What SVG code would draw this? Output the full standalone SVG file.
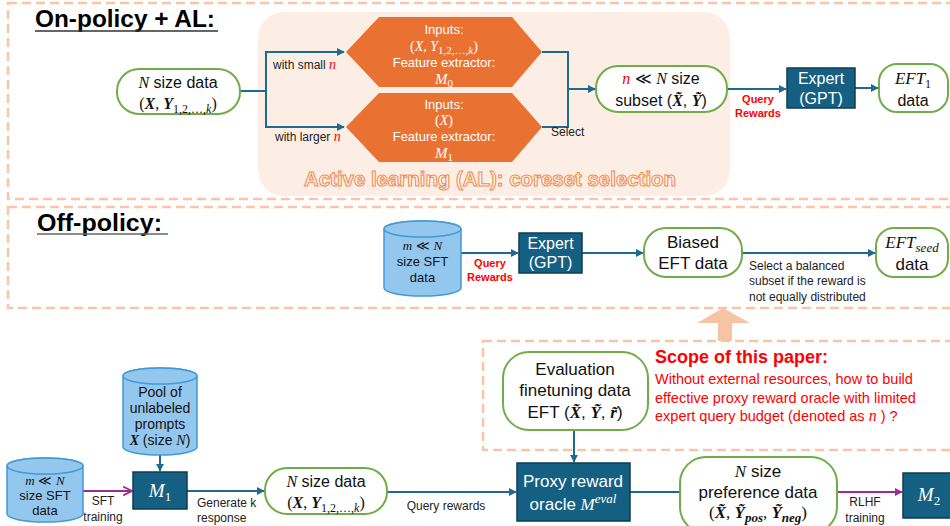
<svg xmlns="http://www.w3.org/2000/svg" width="950" height="526" viewBox="0 0 950 526">
<defs>
<style>
.sans{font-family:"Liberation Sans",Arial,sans-serif}
.m{font-family:"Liberation Serif","DejaVu Serif",serif;font-style:italic;font-weight:normal}
.mb{font-family:"Liberation Serif","DejaVu Serif",serif;font-style:italic;font-weight:bold}
.up{font-family:"Liberation Serif","DejaVu Serif",serif;font-style:normal;font-weight:normal}
.node{fill:#fff;stroke:#70ad47;stroke-width:2}
.dark{fill:#156082;stroke:#0d3d54;stroke-width:1.5}
.hex{fill:#e97132}
.cyl{fill:#94c7ee;stroke:#3f9ad6;stroke-width:1.5}
.conn{fill:none;stroke:#1e6b8f;stroke-width:2}
.purp{fill:none;stroke:#a02b93;stroke-width:2}
.dash{fill:none;stroke:#f8c5a6;stroke-width:2.5;stroke-dasharray:9 5}
.lbl{font-family:"Liberation Sans",Arial,sans-serif;font-size:12px;fill:#222}
.red{fill:#ff0000}
.w{fill:#fff}
.t16{font-family:"Liberation Sans",Arial,sans-serif;font-size:16px;fill:#111}
.t17{font-family:"Liberation Sans",Arial,sans-serif;font-size:17px;fill:#111}
.qr{font-family:"Liberation Sans",Arial,sans-serif;font-size:11px;font-weight:bold;fill:#ff0000}
</style>
<marker id="ah" viewBox="0 0 10 10" refX="9" refY="5" markerWidth="8" markerHeight="8" markerUnits="userSpaceOnUse" orient="auto"><path d="M0,0 L10,5 L0,10 z" fill="#1e6b8f"/></marker>
<marker id="ao" viewBox="0 0 10 10" refX="9" refY="5" markerWidth="11" markerHeight="11" markerUnits="userSpaceOnUse" orient="auto"><path d="M1,1 L9,5 L1,9" fill="none" stroke="#a02b93" stroke-width="1.6"/></marker>
<marker id="ap" viewBox="0 0 10 10" refX="9" refY="5" markerWidth="8" markerHeight="8" markerUnits="userSpaceOnUse" orient="auto"><path d="M0,0 L10,5 L0,10 z" fill="#a02b93"/></marker>
</defs>

<g id="frames">
<rect class="dash" x="8" y="3" width="960" height="196"/>
<rect class="dash" x="8" y="207" width="960" height="101"/>
<rect class="dash" x="483" y="341" width="480" height="109"/>
<polygon points="718,341 718,323 697,323 723,308 750,323 732,323 732,341" fill="#f6c3a3"/>
</g>

<g id="titles">
<text class="sans" x="35" y="27" font-size="24" font-weight="bold" fill="#000" textLength="180" lengthAdjust="spacingAndGlyphs">On-policy + AL:</text>
<line x1="35" y1="31" x2="218" y2="31" stroke="#333" stroke-width="1.5"/>
<text class="sans" x="37" y="231" font-size="24" font-weight="bold" fill="#000" textLength="125" lengthAdjust="spacingAndGlyphs">Off-policy:</text>
<line x1="37" y1="234" x2="168" y2="234" stroke="#666" stroke-width="1.5"/>
</g>

<g id="al-bg">
<rect x="258" y="12" width="472" height="184" rx="26" fill="#fdeee5"/>
<text class="sans" x="304" y="186" font-size="20" font-weight="bold" fill="#fff6f0" stroke="#ee8a50" stroke-width="1" textLength="372" lengthAdjust="spacingAndGlyphs">Active learning (AL): coreset selection</text>
</g>

<g id="connectors">
<path class="conn" d="M240,91 H266"/>
<path class="conn" d="M266,91 V52 H344" marker-end="url(#ah)"/>
<path class="conn" d="M266,91 V127 H344" marker-end="url(#ah)"/>
<path class="conn" d="M542,52 H568 V127 H542"/>
<path class="conn" d="M568,89 H595" marker-end="url(#ah)"/>
<path class="conn" d="M727,89 H786" marker-end="url(#ah)"/>
<path class="conn" d="M855,88 H878" marker-end="url(#ah)"/>
<path class="conn" d="M461,253 H518" marker-end="url(#ah)"/>
<path class="conn" d="M582,253 H643" marker-end="url(#ah)"/>
<path class="conn" d="M742,253 H875" marker-end="url(#ah)"/>
<path class="conn" d="M160,455 V471" marker-end="url(#ah)"/>
<path class="purp" d="M83,491 H132" marker-end="url(#ao)"/>
<path class="conn" d="M187,491 H264" marker-end="url(#ah)"/>
<path class="conn" d="M387,492 H516" marker-end="url(#ah)"/>
<path class="conn" d="M574,430 V462" marker-end="url(#ah)"/>
<path class="conn" d="M630,492 H680"/>
<path class="purp" d="M837,492 H902" marker-end="url(#ap)"/>
</g>

<g id="edge-labels">
<text class="lbl" x="273" y="69">with small <tspan class="m red" font-size="14">n</tspan></text>
<text class="lbl" x="275" y="141">with larger <tspan class="m red" font-size="14">n</tspan></text>
<text class="lbl" x="551" y="136">Select</text>
<text class="qr" x="758" y="103" text-anchor="middle">Query</text>
<text class="qr" x="758" y="117" text-anchor="middle">Rewards</text>
<text class="qr" x="490" y="267" text-anchor="middle">Query</text>
<text class="qr" x="490" y="281" text-anchor="middle">Rewards</text>
<text class="lbl" x="749" y="270">Select a balanced</text>
<text class="lbl" x="749" y="285">subset if the reward is</text>
<text class="lbl" x="749" y="301">not equally distributed</text>
<text class="lbl" x="103" y="505" text-anchor="middle">SFT</text>
<text class="lbl" x="103" y="521" text-anchor="middle">training</text>
<text class="lbl" x="197" y="507">Generate k</text>
<text class="lbl" x="197" y="522">response</text>
<text class="lbl" x="446" y="510" text-anchor="middle">Query rewards</text>
<text class="lbl" x="865" y="506" text-anchor="middle">RLHF</text>
<text class="lbl" x="865" y="522" text-anchor="middle">training</text>
</g>

<g id="n-data-top">
<rect class="node" x="117" y="69" width="123" height="45" rx="22"/>
<text class="t16" x="178" y="88" text-anchor="middle"><tspan class="m">N</tspan> size data</text>
<text class="up" x="178" y="109" font-size="16" text-anchor="middle" fill="#111">(<tspan class="mb">X</tspan>, <tspan class="mb">Y</tspan><tspan font-size="12" dy="4">1,2,…,<tspan class="m">k</tspan></tspan><tspan dy="-4">)</tspan></text>
</g>

<g id="hex-m0">
<polygon class="hex" points="346,52 379,17 512,17 542,52 512,87 379,87"/>
<text class="sans w" x="444" y="34" font-size="13" text-anchor="middle">Inputs:</text>
<text class="up w" x="444" y="51" font-size="14" text-anchor="middle">(<tspan class="m">X</tspan>, <tspan class="m">Y</tspan><tspan font-size="11" dy="3">1,2,…,<tspan class="m">k</tspan></tspan><tspan dy="-3">)</tspan></text>
<text class="sans w" x="444" y="67" font-size="13" text-anchor="middle">Feature extractor:</text>
<text class="m w" x="444" y="84" font-size="15" text-anchor="middle">M<tspan class="up" font-size="11" dy="3">0</tspan></text>
</g>

<g id="hex-m1">
<polygon class="hex" points="346,127 379,93 512,93 542,127 512,162 379,162"/>
<text class="sans w" x="444" y="109" font-size="13" text-anchor="middle">Inputs:</text>
<text class="up w" x="444" y="125" font-size="14" text-anchor="middle">(<tspan class="m">X</tspan>)</text>
<text class="sans w" x="444" y="141" font-size="13" text-anchor="middle">Feature extractor:</text>
<text class="m w" x="444" y="158" font-size="15" text-anchor="middle">M<tspan class="up" font-size="11" dy="3">1</tspan></text>
</g>

<g id="subset">
<rect class="node" x="596" y="66" width="131" height="46" rx="22"/>
<text class="t16" x="661" y="84" text-anchor="middle"><tspan class="m red">n</tspan> ≪ <tspan class="m">N</tspan> size</text>
<text class="t16" x="661" y="106" text-anchor="middle">subset (<tspan class="mb">X̃</tspan>, <tspan class="mb">Ỹ</tspan>)</text>
</g>

<g id="expert-top">
<rect class="dark" x="787" y="68" width="68" height="40"/>
<text class="t16" x="821" y="84" text-anchor="middle" style="fill:#fff">Expert</text>
<text class="t16" x="821" y="104" text-anchor="middle" style="fill:#fff">(GPT)</text>
</g>

<g id="eft1">
<rect class="node" x="879" y="64" width="69" height="48" rx="18"/>
<text class="m" x="913" y="84" font-size="17" text-anchor="middle" fill="#111">EFT<tspan class="up" font-size="12" dy="4">1</tspan></text>
<text class="t16" x="913" y="106" text-anchor="middle">data</text>
</g>

<g id="sft-mid">
<path class="cyl" d="M384,229 V288 A38.5,8 0 0 0 461,288 V229 A38.5,8 0 0 0 384,229 Z"/>
<ellipse class="cyl" cx="422.5" cy="229" rx="38.5" ry="8"/>
<text class="sans" x="422.5" y="250" font-size="13" text-anchor="middle" fill="#111"><tspan class="m">m</tspan> ≪ <tspan class="m">N</tspan></text>
<text class="sans" x="422.5" y="266" font-size="13" text-anchor="middle" fill="#111">size SFT</text>
<text class="sans" x="422.5" y="282" font-size="13" text-anchor="middle" fill="#111">data</text>
</g>

<g id="expert-mid">
<rect class="dark" x="519" y="233" width="63" height="40"/>
<text class="t16" x="550.5" y="249" text-anchor="middle" style="fill:#fff">Expert</text>
<text class="t16" x="550.5" y="268" text-anchor="middle" style="fill:#fff">(GPT)</text>
</g>

<g id="biased">
<rect class="node" x="644" y="228" width="98" height="49" rx="22"/>
<text class="t17" x="693" y="248" text-anchor="middle">Biased</text>
<text class="t17" x="693" y="269" text-anchor="middle">EFT data</text>
</g>

<g id="eft-seed">
<rect class="node" x="876" y="228" width="72" height="49" rx="18"/>
<text class="m" x="912" y="248" font-size="17" text-anchor="middle" fill="#111">EFT<tspan font-size="13" dy="4">seed</tspan></text>
<text class="t17" x="912" y="270" text-anchor="middle">data</text>
</g>

<g id="pool">
<path class="cyl" d="M123,376 V447 A37,8 0 0 0 197,447 V376 A37,8 0 0 0 123,376 Z"/>
<ellipse class="cyl" cx="160" cy="376" rx="37" ry="8"/>
<text class="sans" x="160" y="397" font-size="14" text-anchor="middle" fill="#111">Pool of</text>
<text class="sans" x="160" y="413" font-size="14" text-anchor="middle" fill="#111">unlabeled</text>
<text class="sans" x="160" y="429" font-size="14" text-anchor="middle" fill="#111">prompts</text>
<text class="sans" x="160" y="445" font-size="14" text-anchor="middle" fill="#111"><tspan class="mb">X</tspan> (size <tspan class="m">N</tspan>)</text>
</g>

<g id="sft-bottom">
<path class="cyl" d="M7,466 V514 A38,8 0 0 0 83,514 V466 A38,8 0 0 0 7,466 Z"/>
<ellipse class="cyl" cx="45" cy="466" rx="38" ry="8"/>
<text class="sans" x="45" y="485" font-size="13" text-anchor="middle" fill="#111"><tspan class="m">m</tspan> ≪ <tspan class="m">N</tspan></text>
<text class="sans" x="45" y="500" font-size="13" text-anchor="middle" fill="#111">size SFT</text>
<text class="sans" x="45" y="515" font-size="13" text-anchor="middle" fill="#111">data</text>
</g>

<g id="m1">
<rect class="dark" x="133" y="472" width="54" height="37"/>
<text class="m" x="160" y="497" font-size="19" text-anchor="middle" fill="#fff">M<tspan class="up" font-size="13" dy="4">1</tspan></text>
</g>

<g id="n-data-bottom">
<rect class="node" x="265" y="468" width="122" height="46" rx="22"/>
<text class="t16" x="326" y="487" text-anchor="middle"><tspan class="m">N</tspan> size data</text>
<text class="up" x="326" y="508" font-size="16" text-anchor="middle" fill="#111">(<tspan class="mb">X</tspan>, <tspan class="mb">Y</tspan><tspan font-size="12" dy="4">1,2,…,<tspan class="m">k</tspan></tspan><tspan dy="-4">)</tspan></text>
</g>

<g id="eval">
<rect class="node" x="503" y="352" width="145" height="78" rx="26"/>
<text class="t17" x="575" y="375" text-anchor="middle">Evaluation</text>
<text class="t17" x="575" y="396" text-anchor="middle">finetuning data</text>
<text class="t17" x="575" y="418" text-anchor="middle">EFT (<tspan class="mb">X̃</tspan>, <tspan class="mb">Ỹ</tspan>, <tspan class="mb">r̃</tspan>)</text>
</g>

<g id="proxy">
<rect class="dark" x="517" y="463" width="113" height="58"/>
<text class="t17" x="573" y="487" text-anchor="middle" style="fill:#fff">Proxy reward</text>
<text class="t17" x="573" y="510" text-anchor="middle" style="fill:#fff">oracle <tspan class="m">M</tspan><tspan class="m" font-size="13" dy="-7">eval</tspan></text>
</g>

<g id="pref">
<rect class="node" x="680" y="457" width="157" height="76" rx="26"/>
<text class="t17" x="758" y="477" text-anchor="middle"><tspan class="m">N</tspan> size</text>
<text class="t17" x="758" y="498" text-anchor="middle">preference data</text>
<text class="up" x="758" y="518" font-size="17" text-anchor="middle" fill="#111">(<tspan class="mb">X̃</tspan>, <tspan class="mb">Ỹ</tspan><tspan class="mb" font-size="13" dy="4">pos</tspan><tspan dy="-4">, </tspan><tspan class="mb">Ỹ</tspan><tspan class="mb" font-size="13" dy="4">neg</tspan><tspan dy="-4">)</tspan></text>
</g>

<g id="m2">
<rect class="dark" x="903" y="473" width="56" height="45"/>
<text class="m" x="929" y="501" font-size="19" text-anchor="middle" fill="#fff">M<tspan class="up" font-size="13" dy="4">2</tspan></text>
</g>

<g id="scope">
<text class="sans red" x="655" y="363" font-size="18" font-weight="bold">Scope of this paper:</text>
<text class="sans red" x="655" y="384" font-size="14.5">Without external resources, how to build</text>
<text class="sans red" x="655" y="403" font-size="14.5">effective proxy reward oracle with limited</text>
<text class="sans red" x="655" y="421" font-size="14.5">expert query budget (denoted as <tspan class="m" font-size="16">n</tspan> ) ?</text>
</g>
</svg>
